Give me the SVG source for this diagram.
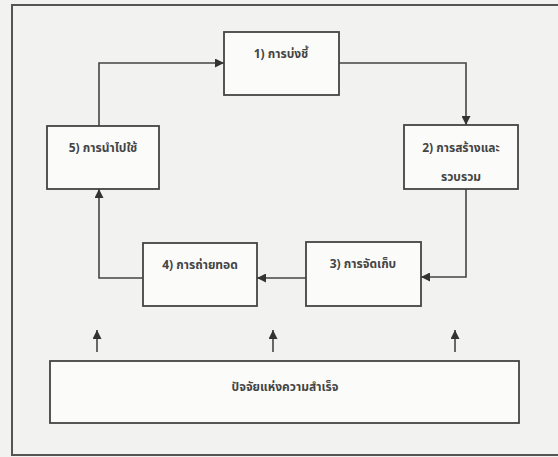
<svg xmlns="http://www.w3.org/2000/svg" width="558" height="457" viewBox="0 0 558 457">
<defs>
<marker id="ah" viewBox="0 0 10 10" refX="10" refY="5" markerWidth="9" markerHeight="9" markerUnits="userSpaceOnUse" orient="auto">
<path d="M0,0 L10,5 L0,10 z" fill="#333"/>
</marker>
<style>
.box{fill:#fbfbfa;stroke:#444;stroke-width:1.8}
.frame{fill:none;stroke:#555;stroke-width:2}
.lbl{font-family:"Noto Sans Thai","Noto Serif Thai","Loma","Garuda","Liberation Serif",serif;font-size:12px;font-weight:bold;fill:#444;text-anchor:middle}
.con{fill:none;stroke:#444;stroke-width:1.6;marker-end:url(#ah)}
</style>
</defs>
<rect x="0" y="0" width="558" height="457" fill="#f2f2f0"/>
<rect class="frame" x="12" y="5" width="560" height="450"/>
<g id="n1"><rect class="box" x="224" y="32" width="115" height="63"/><text class="lbl" x="281" y="58">1) การบ่งชี้</text></g>
<g id="n2"><rect class="box" x="404" y="125" width="114" height="64"/><text class="lbl" x="461" y="152">2) การสร้างและ</text><text class="lbl" x="461" y="181">รวบรวม</text></g>
<g id="n3"><rect class="box" x="306" y="242" width="115" height="64"/><text class="lbl" x="363" y="268">3) การจัดเก็บ</text></g>
<g id="n4"><rect class="box" x="143" y="243" width="114" height="63"/><text class="lbl" x="200" y="269">4) การถ่ายทอด</text></g>
<g id="n5"><rect class="box" x="47" y="126" width="112" height="63"/><text class="lbl" x="103" y="152">5) การนำไปใช้</text></g>
<g id="n6"><rect class="box" x="50" y="361" width="469" height="62"/><text class="lbl" x="285" y="391">ปัจจัยแห่งความสำเร็จ</text></g>
<g id="connectors">
<path class="con" d="M99,126 V63 H224"/>
<path class="con" d="M339,63 H466 V125"/>
<path class="con" d="M466,189 V277 H421"/>
<path class="con" d="M306,278 H257"/>
<path class="con" d="M143,278 H99 V189"/>
<path class="con" d="M97,352 V330"/>
<path class="con" d="M273,352 V330"/>
<path class="con" d="M455,352 V330"/>
</g>
</svg>
